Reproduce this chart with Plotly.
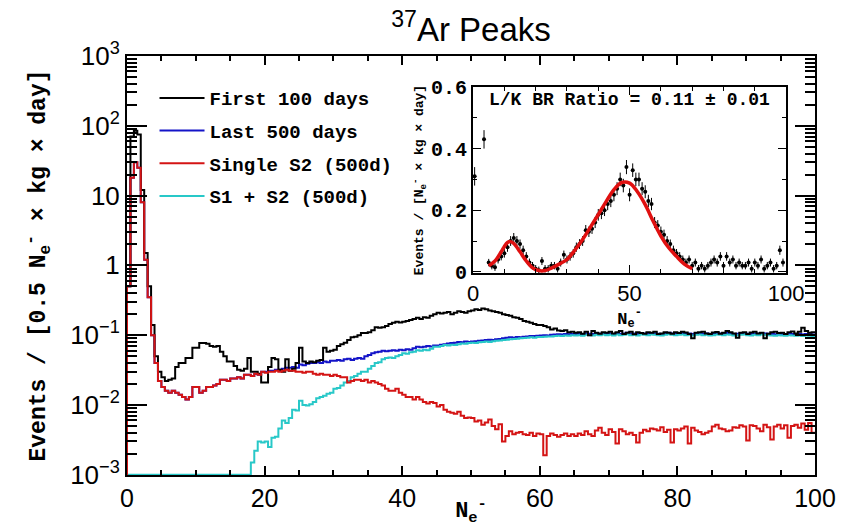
import numpy as np
import plotly.graph_objects as go

# ---------------- data (bin width 0.5 Ne-, 200 bins from 0 to 100) ----------------
bin_edges = np.arange(0, 100.0001, 0.5)

first_100_days = [
    0.5, 70, 85, 75, 12, 1.5, 0.5, 0.14, 0.05, 0.03,
    0.025, 0.022, 0.023, 0.024, 0.035, 0.04, 0.04, 0.047, 0.047, 0.066,
    0.066, 0.077, 0.077, 0.075, 0.07, 0.068, 0.07, 0.058, 0.05, 0.042,
    0.042, 0.036, 0.032, 0.031, 0.033, 0.047, 0.03, 0.03, 0.028, 0.021,
    0.021, 0.035, 0.047, 0.045, 0.032, 0.03, 0.045, 0.031, 0.033, 0.04,
    0.066, 0.042, 0.04, 0.042, 0.041, 0.043, 0.044, 0.066, 0.058, 0.06,
    0.062, 0.07, 0.074, 0.078, 0.085, 0.093, 0.095, 0.1, 0.107, 0.107,
    0.11, 0.118, 0.13, 0.128, 0.13, 0.135, 0.145, 0.15, 0.155, 0.152,
    0.155, 0.16, 0.165, 0.17, 0.177, 0.17, 0.18, 0.178, 0.19, 0.2,
    0.21, 0.205, 0.21, 0.215, 0.2, 0.21, 0.22, 0.215, 0.21, 0.22,
    0.225, 0.235, 0.23, 0.24, 0.235, 0.225, 0.22, 0.215, 0.21, 0.2,
    0.195, 0.19, 0.18, 0.177, 0.17, 0.16, 0.155, 0.15, 0.145, 0.14,
    0.14, 0.135, 0.13, 0.12, 0.125, 0.117, 0.115, 0.118, 0.11, 0.112,
    0.108, 0.11, 0.105, 0.112, 0.1, 0.115, 0.108, 0.105, 0.11, 0.108,
    0.112, 0.106, 0.11, 0.115, 0.104, 0.108, 0.112, 0.103, 0.11, 0.107,
    0.105, 0.11, 0.108, 0.112, 0.104, 0.106, 0.11, 0.108, 0.105, 0.11,
    0.107, 0.112, 0.109, 0.104, 0.09, 0.108, 0.11, 0.112, 0.106, 0.104,
    0.109, 0.111, 0.105, 0.108, 0.115, 0.11, 0.106, 0.092, 0.108, 0.11,
    0.104, 0.109, 0.112, 0.106, 0.108, 0.09, 0.105, 0.11, 0.112, 0.107,
    0.108, 0.104, 0.11, 0.113, 0.106, 0.112, 0.128, 0.115, 0.108, 0.11,
]

last_500_days = [
    0.5, 18, 30, 25, 8, 1.2, 0.35, 0.1, 0.04, 0.022,
    0.018, 0.016, 0.015, 0.016, 0.015, 0.014, 0.013, 0.012, 0.013, 0.018,
    0.018, 0.015, 0.016, 0.018, 0.018, 0.019, 0.02, 0.023, 0.023, 0.022,
    0.024, 0.024, 0.025, 0.024, 0.027, 0.027, 0.026, 0.028, 0.027, 0.03,
    0.03, 0.031, 0.031, 0.032, 0.032, 0.033, 0.034, 0.034, 0.035, 0.034,
    0.038, 0.037, 0.039, 0.04, 0.04, 0.041, 0.04, 0.042, 0.041, 0.043,
    0.043, 0.044, 0.043, 0.045, 0.046, 0.044, 0.046, 0.047, 0.046, 0.05,
    0.052, 0.055, 0.057, 0.058, 0.06, 0.059, 0.06, 0.061, 0.06, 0.062,
    0.061, 0.063, 0.062, 0.065, 0.068, 0.067, 0.068, 0.07, 0.069, 0.071,
    0.071, 0.073, 0.074, 0.076, 0.077, 0.078, 0.08, 0.079, 0.081, 0.08,
    0.081, 0.082, 0.083, 0.084, 0.085, 0.086, 0.085, 0.087, 0.088, 0.09,
    0.092, 0.093, 0.092, 0.094, 0.093, 0.095, 0.096, 0.097, 0.097, 0.098,
    0.099, 0.1, 0.099, 0.101, 0.102, 0.103, 0.102, 0.104, 0.103, 0.104,
    0.104, 0.105, 0.103, 0.106, 0.105, 0.104, 0.106, 0.105, 0.107, 0.105,
    0.106, 0.104, 0.107, 0.105, 0.106, 0.108, 0.105, 0.106, 0.104, 0.107,
    0.106, 0.105, 0.107, 0.106, 0.105, 0.104, 0.106, 0.108, 0.106, 0.105,
    0.106, 0.107, 0.105, 0.106, 0.104, 0.106, 0.107, 0.105, 0.106, 0.104,
    0.105, 0.107, 0.106, 0.105, 0.107, 0.106, 0.104, 0.105, 0.106, 0.107,
    0.105, 0.104, 0.106, 0.105, 0.107, 0.106, 0.105, 0.104, 0.103, 0.105,
    0.104, 0.103, 0.105, 0.104, 0.103, 0.104, 0.102, 0.104, 0.103, 0.102,
]

single_s2 = [
    0.5, 18, 30, 25, 8, 1.2, 0.35, 0.1, 0.04, 0.022,
    0.018, 0.016, 0.015, 0.016, 0.015, 0.014, 0.013, 0.012, 0.013, 0.018,
    0.018, 0.015, 0.016, 0.018, 0.018, 0.019, 0.02, 0.023, 0.023, 0.022,
    0.024, 0.024, 0.025, 0.024, 0.027, 0.027, 0.026, 0.028, 0.027, 0.03,
    0.029, 0.03, 0.03, 0.031, 0.03, 0.031, 0.032, 0.031, 0.031, 0.03,
    0.03, 0.029, 0.03, 0.03, 0.028, 0.027, 0.028, 0.027, 0.027, 0.026,
    0.027, 0.026, 0.025, 0.025, 0.021, 0.022, 0.023, 0.023, 0.022, 0.023,
    0.021, 0.022, 0.021, 0.02, 0.019, 0.017, 0.016, 0.016, 0.017, 0.015,
    0.014, 0.013, 0.013, 0.012, 0.013, 0.012, 0.011, 0.0105, 0.011, 0.0107,
    0.0095, 0.01, 0.0085, 0.008, 0.0077, 0.0075, 0.008, 0.007, 0.0065, 0.0066,
    0.0065, 0.0058, 0.006, 0.0052, 0.0056, 0.0062, 0.005, 0.0045, 0.0053, 0.003,
    0.0036, 0.0042, 0.0038, 0.004, 0.0041, 0.0038, 0.0037, 0.004, 0.0036, 0.0039,
    0.0038, 0.0019, 0.0036, 0.0039, 0.0037, 0.0035, 0.0037, 0.0039, 0.0036, 0.0038,
    0.0036, 0.0039, 0.0037, 0.0042, 0.0038, 0.0036, 0.0043, 0.0047, 0.004, 0.0037,
    0.0045, 0.0041, 0.0028, 0.0045, 0.0042, 0.0038, 0.004, 0.0037, 0.0029, 0.004,
    0.0044, 0.0042, 0.0046, 0.0045, 0.0043, 0.0048, 0.0041, 0.0044, 0.0029, 0.0045,
    0.0043, 0.0046, 0.0049, 0.0028, 0.0047, 0.0043, 0.0041, 0.0038, 0.004, 0.0042,
    0.0049, 0.0052, 0.0046, 0.0045, 0.0042, 0.0043, 0.0048, 0.0047, 0.0051, 0.0049,
    0.0031, 0.0051, 0.005, 0.0046, 0.0042, 0.0052, 0.0048, 0.0032, 0.0049, 0.0052,
    0.0046, 0.0051, 0.0034, 0.005, 0.0052, 0.0047, 0.0054, 0.0044, 0.0055, 0.004,
]

s1_plus_s2 = [
    0.001, 0.001, 0.001, 0.001, 0.001, 0.001, 0.001, 0.001, 0.001, 0.001,
    0.001, 0.001, 0.001, 0.001, 0.001, 0.001, 0.001, 0.001, 0.001, 0.001,
    0.001, 0.001, 0.001, 0.001, 0.001, 0.001, 0.001, 0.001, 0.001, 0.001,
    0.001, 0.001, 0.001, 0.001, 0.001, 0.001, 0.0015, 0.0022, 0.003, 0.0029,
    0.003, 0.0025, 0.0034, 0.0035, 0.0046, 0.006, 0.0055, 0.0065, 0.0085, 0.0083,
    0.0115, 0.01, 0.0098, 0.0102, 0.011, 0.0125, 0.013, 0.0135, 0.0145, 0.015,
    0.017, 0.0175, 0.019, 0.021, 0.022, 0.025, 0.026, 0.028, 0.03, 0.03,
    0.033, 0.036, 0.04, 0.041, 0.045, 0.047, 0.048, 0.047, 0.05, 0.052,
    0.055, 0.054, 0.057, 0.058, 0.061, 0.06, 0.062, 0.061, 0.064, 0.068,
    0.068, 0.07, 0.072, 0.071, 0.073, 0.072, 0.074, 0.076, 0.075, 0.077,
    0.078, 0.077, 0.079, 0.08, 0.081, 0.08, 0.082, 0.083, 0.084, 0.085,
    0.086, 0.087, 0.088, 0.089, 0.09, 0.091, 0.092, 0.093, 0.092, 0.094,
    0.094, 0.095, 0.096, 0.096, 0.097, 0.098, 0.097, 0.099, 0.098, 0.1,
    0.099, 0.1, 0.098, 0.101, 0.1, 0.099, 0.101, 0.1, 0.102, 0.1,
    0.101, 0.099, 0.102, 0.1, 0.101, 0.103, 0.1, 0.101, 0.099, 0.102,
    0.101, 0.1, 0.102, 0.101, 0.1, 0.099, 0.101, 0.103, 0.101, 0.1,
    0.101, 0.102, 0.1, 0.101, 0.099, 0.101, 0.102, 0.1, 0.101, 0.099,
    0.1, 0.102, 0.101, 0.1, 0.102, 0.101, 0.099, 0.1, 0.101, 0.102,
    0.1, 0.099, 0.101, 0.1, 0.102, 0.101, 0.1, 0.099, 0.098, 0.1,
    0.099, 0.098, 0.1, 0.099, 0.098, 0.099, 0.097, 0.099, 0.098, 0.097,
]

# inset: rate per Ne- (1 Ne- bins) with errors, and the fit curve
inset_x = [0.5, 3.5] + list(range(5, 100))
inset_y = [
    0.31, 0.43,
    0.03, 0.02, 0.015, 0.04, 0.05, 0.06, 0.08, 0.10, 0.11, 0.10,
    0.09, 0.07, 0.05, 0.03, 0.02, 0.01, 0.005, 0.035, 0.01, 0.01,
    0.02, 0.02, 0.01, 0.03, 0.055, 0.04, 0.05, 0.06, 0.08, 0.09,
    0.10, 0.135, 0.13, 0.14, 0.16, 0.185, 0.19, 0.20, 0.22, 0.23,
    0.25, 0.27, 0.30, 0.28, 0.34, 0.25, 0.33, 0.30, 0.30, 0.27,
    0.26, 0.23, 0.22, 0.16, 0.15, 0.13, 0.12, 0.10, 0.09, 0.07,
    0.06, 0.05, 0.04, 0.03, 0.04, 0.02, 0.03, 0.01, 0.02, 0.01,
    0.02, 0.03, 0.04, 0.03, 0.05, 0.02, 0.05, 0.03, 0.04, 0.02,
    0.03, 0.02, 0.02, 0.03, 0.01, 0.03, 0.02, 0.04, 0.01, 0.02,
    0.03, 0.01, 0.02, 0.07, 0.03,
]
inset_err = [
    0.03, 0.03,
    0.012, 0.012, 0.012, 0.013, 0.013, 0.014, 0.015, 0.016, 0.016, 0.016,
    0.015, 0.015, 0.014, 0.013, 0.012, 0.012, 0.012, 0.013, 0.012, 0.012,
    0.012, 0.012, 0.012, 0.013, 0.014, 0.013, 0.014, 0.014, 0.015, 0.016,
    0.016, 0.017, 0.017, 0.017, 0.018, 0.019, 0.019, 0.019, 0.02, 0.02,
    0.021, 0.021, 0.022, 0.022, 0.023, 0.021, 0.022, 0.022, 0.022, 0.021,
    0.021, 0.02, 0.02, 0.018, 0.018, 0.017, 0.017, 0.016, 0.015, 0.015,
    0.014, 0.014, 0.013, 0.013, 0.013, 0.012, 0.013, 0.012, 0.012, 0.012,
    0.012, 0.013, 0.013, 0.013, 0.014, 0.012, 0.014, 0.013, 0.013, 0.012,
    0.013, 0.012, 0.012, 0.013, 0.012, 0.013, 0.012, 0.013, 0.012, 0.012,
    0.013, 0.012, 0.012, 0.015, 0.013,
]
fit_x = [5, 7, 9, 10, 11, 12, 13, 15, 17, 19, 21, 23, 25, 27.5, 30, 32.5, 35,
         37.5, 40, 42.5, 45, 47.5, 50, 52.5, 55, 57.5, 60, 62.5, 65, 67.5, 70]
fit_y = [0.02, 0.035, 0.065, 0.082, 0.095, 0.098, 0.092, 0.065, 0.035, 0.013,
         0.004, 0.004, 0.012, 0.025, 0.04, 0.07, 0.105, 0.145, 0.186, 0.228,
         0.267, 0.29, 0.288, 0.26, 0.218, 0.165, 0.116, 0.078, 0.05, 0.025, 0.01]

series_names = ["First 100 days", "Last 500 days", "Single S2 (500d)", "S1 + S2 (500d)"]
series_colors = ["#000000", "#1414c8", "#d41414", "#28c8c8"]
y_tickvals = [1e-3, 1e-2, 1e-1, 1, 10, 1e2, 1e3]
y_ticktext = ["10<sup>\u22123</sup>", "10<sup>\u22122</sup>", "10<sup>\u22121</sup>", "1", "10",
              "10<sup>2</sup>", "10<sup>3</sup>"]

MONO = "Liberation Mono"
SANS = "Liberation Sans"


def step_xy(vals):
    xs = [0.0] + [float(e) for e in bin_edges]
    ys = [1e-4] + list(vals) + [vals[-1]]
    return xs, ys


fig = go.Figure()
all_series = [first_100_days, last_500_days, single_s2, s1_plus_s2]
draw_order = [1, 3, 0, 2]  # blue, cyan, black, red (red on top)
for idx in draw_order:
    xs, ys = step_xy(all_series[idx])
    fig.add_trace(go.Scatter(
        x=xs, y=ys, mode="lines", line=dict(color=series_colors[idx], width=2, shape="hv"),
        name=series_names[idx], legendrank=idx + 1, legendgroup=f"g{idx}",
        xaxis="x", yaxis="y",
    ))

# inset
fig.add_trace(go.Scatter(
    x=inset_x, y=inset_y, mode="markers",
    marker=dict(color="black", size=4),
    error_y=dict(type="data", array=inset_err, color="black", thickness=1, width=0),
    error_x=dict(type="constant", value=0.5, color="black", thickness=1, width=0),
    showlegend=False, xaxis="x2", yaxis="y2",
))
fig.add_trace(go.Scatter(
    x=fit_x, y=fit_y, mode="lines", line=dict(color="#e01010", width=3.5, shape="spline"),
    showlegend=False, xaxis="x2", yaxis="y2",
))

minor_log = [k * 10.0 ** d for d in range(-3, 3) for k in range(2, 10)]

fig.update_layout(
    width=842, height=527,
    margin=dict(l=127, r=27, t=56, b=52, autoexpand=False),
    paper_bgcolor="white", plot_bgcolor="white",
    title=dict(text="<sup>37</sup>Ar Peaks", x=0.5, xref="paper", xanchor="center",
               y=0.945, yanchor="middle", font=dict(family=SANS, size=33, color="black")),
    showlegend=True,
    legend=dict(x=0.04, y=0.945, xanchor="left", yanchor="top", bgcolor="rgba(0,0,0,0)",
                font=dict(family=MONO, size=19, color="black", weight="bold"),
                tracegroupgap=5, traceorder="grouped", itemwidth=45),
    xaxis=dict(
        range=[0, 100], tickvals=[0, 20, 40, 60, 80, 100], ticks="inside", ticklen=9,
        tickwidth=1.5, tickcolor="black", mirror="ticks", showline=True, linewidth=2,
        linecolor="black", showgrid=False, zeroline=False, automargin=False,
        minor=dict(tickvals=list(range(0, 101, 5)), ticks="inside", ticklen=5, tickcolor="black"),
        tickfont=dict(family=SANS, size=25, color="black"), ticklabelstandoff=0,
        title=dict(text="N<sub>e</sub><sup>-</sup>", standoff=10,
                   font=dict(family=MONO, size=22, color="black", weight="bold")),
        domain=[0, 1],
    ),
    yaxis=dict(
        type="log", range=[-3.004, 3], tickvals=y_tickvals, ticktext=y_ticktext,
        ticks="inside", ticklen=20, tickwidth=1.5, tickcolor="black", mirror="ticks",
        showline=True, linewidth=2, linecolor="black", showgrid=False, zeroline=False,
        automargin=False,
        minor=dict(tickvals=minor_log, ticks="inside", ticklen=10, tickcolor="black"),
        tickfont=dict(family=SANS, size=26, color="black"),
        title=dict(text="Events / [0.5 N<sub>e</sub><sup>-</sup> \u00d7 kg \u00d7 day]", standoff=18,
                   font=dict(family=MONO, size=23, color="black", weight="bold")),
        domain=[0, 1],
    ),
    xaxis2=dict(
        domain=[0.503, 0.958], anchor="y2", range=[0, 100], tickvals=[0, 50, 100],
        ticks="inside", ticklen=8, tickcolor="black", mirror="ticks", showline=True,
        linewidth=2, linecolor="black", showgrid=False, zeroline=False, automargin=False,
        minor=dict(tickvals=list(range(0, 101, 10)), ticks="inside", ticklen=4, tickcolor="black"),
        tickfont=dict(family=SANS, size=22, color="black"),
        title=dict(text="N<sub>e</sub><sup>-</sup>", standoff=0,
                   font=dict(family=MONO, size=17, color="black", weight="bold")),
    ),
    yaxis2=dict(
        domain=[0.482, 0.926], anchor="x2", range=[-0.004, 0.6],
        tickvals=[0, 0.2, 0.4, 0.6], ticktext=["0", "0.2", "0.4", "0.6"],
        ticks="inside", ticklen=8, tickcolor="black", mirror="ticks", showline=True,
        linewidth=2, linecolor="black", showgrid=False, zeroline=False, automargin=False,
        minor=dict(tickvals=[0.1, 0.3, 0.5], ticks="inside", ticklen=4, tickcolor="black"),
        tickfont=dict(family=MONO, size=20, color="black", weight="bold"),
        title=dict(text="Events / [N<sub>e</sub><sup>-</sup> \u00d7 kg \u00d7 day]", standoff=4,
                   font=dict(family=MONO, size=13, color="black", weight="bold")),
    ),
    annotations=[dict(
        text="L/K BR Ratio = 0.11 \u00b1 0.01", xref="x2 domain", yref="y2 domain",
        x=0.5, y=0.93, xanchor="center", yanchor="middle", showarrow=False,
        font=dict(family=MONO, size=18, color="black", weight="bold"),
    )],
)

fig.write_html("out.html")
